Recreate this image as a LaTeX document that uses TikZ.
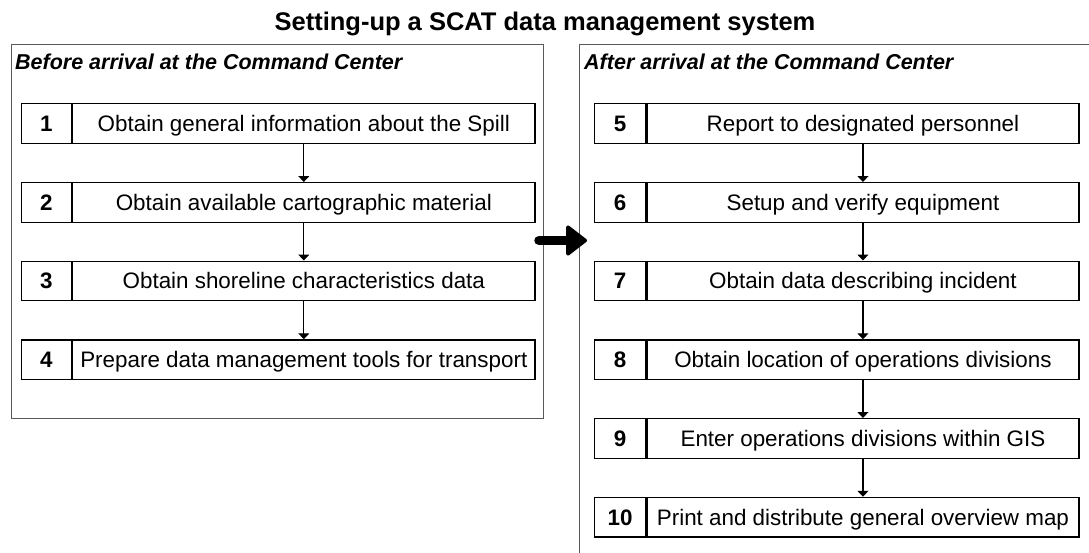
\documentclass[tikz,border=0pt]{standalone}
\usepackage{fontspec}
\setmainfont{Liberation Sans}
\usetikzlibrary{arrows.meta}
\begin{document}
\begin{tikzpicture}[x=1pt,y=-1pt,
  panel/.style={draw=black!65, line width=1pt, anchor=north west, inner sep=0pt},
  header/.style={anchor=base west, inner sep=0pt, font=\fontsize{21.5}{25}\selectfont\bfseries\itshape},
  numcell/.style={draw, line width=1.3pt, anchor=north west, inner sep=0pt,
    minimum height=39.5pt, text height=16pt, text depth=0pt,
    font=\fontsize{22.4}{26}\selectfont\bfseries},
  textcell/.style={draw, line width=1.3pt, anchor=north west, inner sep=0pt,
    minimum height=39.5pt, text height=16pt, text depth=0pt,
    font=\fontsize{22.4}{26}\selectfont},
  flow/.style={line width=1.3pt, -{Triangle[width=11pt,length=6pt]}},
  bigarrow/.style={line width=9.5pt, line cap=round,
    -{Triangle[width=33pt,length=22pt,line width=3.5pt,round]}}
]
\path[use as bounding box] (0,0) rectangle (1089,552);
\clip (0,0) rectangle (1089,552);

% title
\node[anchor=base, inner sep=0pt, font=\fontsize{25.5}{30}\selectfont\bfseries] (title)
  at (545,30.7) {Setting-up a SCAT data management system};

% the two phases
\node[panel, minimum width=532.3pt, minimum height=374pt] (leftpanel) at (10.7,44) {};
\node[panel, minimum width=540pt, minimum height=540pt] (rightpanel) at (579,44) {};
\node[header] (lefthead) at (15,69.3) {Before arrival at the Command Center};
\node[header] (righthead) at (584,69.3) {After arrival at the Command Center};

% steps before arrival
\node[numcell, minimum width=50pt] (n1) at (20.7,103) {1};
\node[textcell, minimum width=462.3pt] (s1) at (n1.north east) {Obtain general information about the Spill};
\node[numcell, minimum width=50pt] (n2) at (20.7,182) {2};
\node[textcell, minimum width=462.3pt] (s2) at (n2.north east) {Obtain available cartographic material};
\node[numcell, minimum width=50pt] (n3) at (20.7,260.5) {3};
\node[textcell, minimum width=462.3pt] (s3) at (n3.north east) {Obtain shoreline characteristics data};
\node[numcell, minimum width=50pt] (n4) at (20.7,339.25) {4};
\node[textcell, minimum width=462.3pt] (s4) at (n4.north east) {Prepare data management tools for transport};

% steps after arrival
\node[numcell, minimum width=51pt] (n5) at (594,103) {5};
\node[textcell, minimum width=432pt] (s5) at (n5.north east) {Report to designated personnel};
\node[numcell, minimum width=51pt] (n6) at (594,182) {6};
\node[textcell, minimum width=432pt] (s6) at (n6.north east) {Setup and verify equipment};
\node[numcell, minimum width=51pt] (n7) at (594,260.5) {7};
\node[textcell, minimum width=432pt] (s7) at (n7.north east) {Obtain data describing incident};
\node[numcell, minimum width=51pt] (n8) at (594,339.25) {8};
\node[textcell, minimum width=432pt] (s8) at (n8.north east) {Obtain location of operations divisions};
\node[numcell, minimum width=51pt] (n9) at (594,418) {9};
\node[textcell, minimum width=432pt] (s9) at (n9.north east) {Enter operations divisions within GIS};
\node[numcell, minimum width=51pt] (n10) at (594,496.75) {10};
\node[textcell, minimum width=432pt] (s10) at (n10.north east) {Print and distribute general overview map};

% sequence arrows
\foreach \a/\b in {s1/s2,s2/s3,s3/s4,s5/s6,s6/s7,s7/s8,s8/s9,s9/s10}
  \draw[flow] (\a.south) -- (\b.north);

% hand-over from one phase to the next
\coordinate (handfrom) at (539,240.5);
\coordinate (handto) at (587,240.5);
\draw[bigarrow] (handfrom) -- (handto);
\end{tikzpicture}
\end{document}
